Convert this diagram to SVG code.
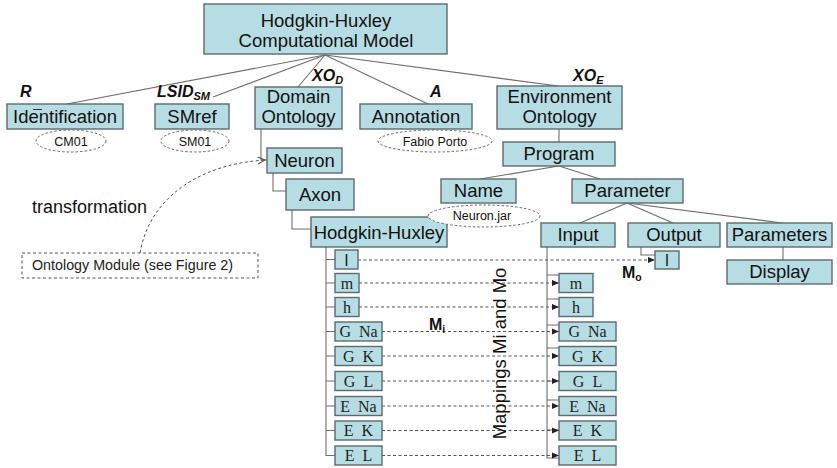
<svg xmlns="http://www.w3.org/2000/svg" width="837" height="468" viewBox="0 0 837 468">
<style>
.b{fill:#b7dde4;stroke:#5d6b6e;stroke-width:1.4}
.t{font-family:"Liberation Sans",Arial,sans-serif;font-size:18.5px;fill:#111;text-anchor:middle}
.s{font-family:"Liberation Serif","Times New Roman",serif;font-size:16px;fill:#222;text-anchor:middle;white-space:pre}
.si{font-family:"Liberation Sans",Arial,sans-serif;font-size:16px;fill:#222;text-anchor:middle}
.e{fill:#fff;stroke:#666;stroke-width:1;stroke-dasharray:2.5,2}
.et{font-family:"Liberation Sans",Arial,sans-serif;font-size:12.5px;fill:#111;text-anchor:middle}
.lb{font-family:"Liberation Sans",Arial,sans-serif;font-size:16px;font-weight:bold;font-style:italic;fill:#111}
.mb{font-family:"Liberation Sans",Arial,sans-serif;font-size:16px;font-weight:bold;fill:#111}
.c{fill:none;stroke:#6e6e6e;stroke-width:1.1}
.d{fill:none;stroke:#555;stroke-width:1;stroke-dasharray:3,2.5}
</style>
<defs>
<marker id="ar" viewBox="0 0 8 8" refX="8" refY="4" markerWidth="7" markerHeight="7" markerUnits="userSpaceOnUse" orient="auto">
<path d="M0,0.5 L8,4 L0,7.5 Z" fill="#222"/>
</marker>
<marker id="oa" viewBox="0 0 10 10" refX="9" refY="5" markerWidth="9" markerHeight="9" markerUnits="userSpaceOnUse" orient="auto">
<path d="M1,1 L9,5 L1,9" fill="none" stroke="#555" stroke-width="1.2"/>
</marker>
</defs>

<g id="connectors">
<line class="c" x1="325" y1="55" x2="67" y2="104"/>
<line class="c" x1="325" y1="55" x2="213" y2="97"/>
<line class="c" x1="325" y1="55" x2="298" y2="87"/>
<line class="c" x1="325" y1="55" x2="428" y2="104"/>
<line class="c" x1="325" y1="55" x2="558" y2="86"/>
<path class="c" d="M261,129 V160 H267"/>
<path class="c" d="M273,173 V191 H286"/>
<path class="c" d="M292,210 V229 H311"/>
<line class="c" x1="559" y1="129" x2="559" y2="142"/>
<line class="c" x1="559" y1="166" x2="480" y2="179"/>
<line class="c" x1="559" y1="166" x2="600" y2="179"/>
<line class="c" x1="627" y1="203" x2="580" y2="223"/>
<line class="c" x1="627" y1="203" x2="673" y2="223"/>
<line class="c" x1="627" y1="203" x2="782" y2="223"/>
<line class="c" x1="783" y1="247" x2="783" y2="260"/>
<path class="c" d="M641,247 V255 H655"/>
<path class="c" d="M326,247 V455.5 H335 M326,259.5 H335 M326,283 H335 M326,307 H335 M326,331.5 H335 M326,356 H335 M326,381 H335 M326,406 H335 M326,430.5 H335"/>
<path class="c" d="M547,247 V458 H559 M547,275 H559 M547,299 H559 M547,325 H559 M547,348 H559 M547,381 H559 M547,400 H559 M547,430 H559"/>
<path class="d" d="M140,253 C148,205 190,165 265,160" marker-end="url(#oa)"/>
<line class="d" x1="358" y1="260" x2="655" y2="260" marker-end="url(#ar)"/>
<line class="d" x1="359" y1="283" x2="559" y2="283" marker-end="url(#ar)"/>
<line class="d" x1="359" y1="307" x2="559" y2="307" marker-end="url(#ar)"/>
<line class="d" x1="382" y1="331.5" x2="559" y2="331.5" marker-end="url(#ar)"/>
<line class="d" x1="382" y1="356" x2="559" y2="356" marker-end="url(#ar)"/>
<line class="d" x1="382" y1="381" x2="559" y2="381" marker-end="url(#ar)"/>
<line class="d" x1="382" y1="406" x2="559" y2="406" marker-end="url(#ar)"/>
<line class="d" x1="382" y1="430.5" x2="559" y2="430.5" marker-end="url(#ar)"/>
<line class="d" x1="382" y1="455.5" x2="559" y2="455.5" marker-end="url(#ar)"/>
</g>

<g id="hh-model"><rect class="b" x="204" y="4" width="243" height="50"/><text class="t" x="326" y="27">Hodgkin-Huxley</text><text class="t" x="326" y="47">Computational Model</text></g>

<g id="identification"><rect class="b" x="7" y="104" width="116" height="25"/><text class="t" x="65" y="123">Identification</text><line x1="33" y1="109.5" x2="42" y2="109.5" stroke="#333" stroke-width="1"/></g>
<g id="cm01"><ellipse class="e" cx="71" cy="141" rx="35" ry="11"/><text class="et" x="71" y="145.5">CM01</text></g>
<g id="smref"><rect class="b" x="155" y="104" width="74" height="25"/><text class="t" x="192" y="123">SMref</text></g>
<g id="sm01"><ellipse class="e" cx="195" cy="141" rx="34" ry="11"/><text class="et" x="195" y="145.5">SM01</text></g>
<g id="domain-ontology"><rect class="b" x="255" y="87" width="87" height="42"/><text class="t" x="298.5" y="103">Domain</text><text class="t" x="298.5" y="123">Ontology</text></g>
<g id="annotation"><rect class="b" x="360" y="104" width="112" height="25"/><text class="t" x="416" y="123">Annotation</text></g>
<g id="fabio"><ellipse class="e" cx="435" cy="141" rx="57" ry="11"/><text class="et" x="435" y="145.5">Fabio Porto</text></g>
<g id="environment-ontology"><rect class="b" x="497" y="86" width="125" height="43"/><text class="t" x="559.5" y="103">Environment</text><text class="t" x="559.5" y="123">Ontology</text></g>

<g id="labels">
<text class="lb" x="20" y="97">R</text>
<text class="lb" x="157" y="97">LSID<tspan font-size="11" dy="3">SM</tspan></text>
<text class="lb" x="312" y="81">XO<tspan font-size="11" dy="3">D</tspan></text>
<text class="lb" x="430" y="97">A</text>
<text class="lb" x="573" y="81">XO<tspan font-size="11" dy="3">E</tspan></text>
<text class="mb" x="429" y="330">M<tspan font-size="10.5" dy="3">i</tspan></text>
<text class="mb" x="622" y="278">M<tspan font-size="10.5" dy="3">o</tspan></text>
<text x="32" y="213" font-family="Liberation Sans, Arial, sans-serif" font-size="18" fill="#111">transformation</text>
<text transform="translate(506,353.5) rotate(-90)" font-family="Liberation Sans, Arial, sans-serif" font-size="18.5" fill="#111" text-anchor="middle">Mappings Mi and Mo</text>
</g>

<g id="ontology-module"><rect x="22" y="253" width="236" height="25" fill="#fff" stroke="#555" stroke-width="1" stroke-dasharray="3,2.5"/><text x="32" y="270" font-family="Liberation Sans, Arial, sans-serif" font-size="14.3" fill="#222">Ontology Module (see Figure 2)</text></g>

<g id="neuron"><rect class="b" x="267" y="148" width="75" height="25"/><text class="t" x="304.5" y="167">Neuron</text></g>
<g id="axon"><rect class="b" x="286" y="179" width="68" height="31"/><text class="t" x="320" y="201">Axon</text></g>
<g id="hodgkin-huxley"><rect class="b" x="311" y="217" width="136" height="30"/><text class="t" x="379" y="238.5">Hodgkin-Huxley</text></g>

<g id="program"><rect class="b" x="503" y="142" width="112" height="24"/><text class="t" x="559" y="160">Program</text></g>
<g id="name"><rect class="b" x="441" y="179" width="75" height="24"/><text class="t" x="478.5" y="197">Name</text></g>
<g id="parameter"><rect class="b" x="572" y="179" width="111" height="24"/><text class="t" x="627.5" y="197">Parameter</text></g>
<g id="neuron-jar"><ellipse class="e" cx="484" cy="216" rx="56" ry="11"/><text class="et" x="482" y="220">Neuron.jar</text></g>
<g id="input"><rect class="b" x="541" y="223" width="74" height="24"/><text class="t" x="578" y="241">Input</text></g>
<g id="output"><rect class="b" x="628" y="223" width="92" height="24"/><text class="t" x="674" y="241">Output</text></g>
<g id="parameters"><rect class="b" x="727" y="223" width="105" height="24"/><text class="t" x="779.5" y="241">Parameters</text></g>
<g id="display"><rect class="b" x="727" y="260" width="105" height="24"/><text class="t" x="779.5" y="278">Display</text></g>
<g id="out-I"><rect class="b" x="655" y="251" width="24" height="18"/><text class="si" x="667" y="266">I</text></g>

<g id="l-I"><rect class="b" x="335" y="250" width="23" height="19"/><text class="si" x="346.5" y="265.5">I</text></g>
<g id="l-m"><rect class="b" x="335" y="273.5" width="24" height="19"/><text class="s" x="347" y="288.5">m</text></g>
<g id="l-h"><rect class="b" x="335" y="297.5" width="24" height="19"/><text class="s" x="347" y="312.5">h</text></g>
<g id="l-gna"><rect class="b" x="335" y="322" width="47" height="19"/><text class="s" xml:space="preserve" x="358.5" y="337">G  Na</text></g>
<g id="l-gk"><rect class="b" x="335" y="346.5" width="47" height="19"/><text class="s" xml:space="preserve" x="358.5" y="361.5">G  K</text></g>
<g id="l-gl"><rect class="b" x="335" y="371.5" width="47" height="19"/><text class="s" xml:space="preserve" x="358.5" y="386.5">G  L</text></g>
<g id="l-ena"><rect class="b" x="335" y="396.5" width="47" height="19"/><text class="s" xml:space="preserve" x="358.5" y="411.5">E  Na</text></g>
<g id="l-ek"><rect class="b" x="335" y="421" width="47" height="19"/><text class="s" xml:space="preserve" x="358.5" y="436">E  K</text></g>
<g id="l-el"><rect class="b" x="335" y="446" width="47" height="19"/><text class="s" xml:space="preserve" x="358.5" y="461">E  L</text></g>

<g id="r-m"><rect class="b" x="559" y="273.5" width="34" height="19"/><text class="s" x="576" y="288.5">m</text></g>
<g id="r-h"><rect class="b" x="559" y="297.5" width="34" height="19"/><text class="s" x="576" y="312.5">h</text></g>
<g id="r-gna"><rect class="b" x="559" y="322" width="57" height="19"/><text class="s" xml:space="preserve" x="587.5" y="337">G  Na</text></g>
<g id="r-gk"><rect class="b" x="559" y="346.5" width="57" height="19"/><text class="s" xml:space="preserve" x="587.5" y="361.5">G  K</text></g>
<g id="r-gl"><rect class="b" x="559" y="371.5" width="57" height="19"/><text class="s" xml:space="preserve" x="587.5" y="386.5">G  L</text></g>
<g id="r-ena"><rect class="b" x="559" y="396.5" width="57" height="19"/><text class="s" xml:space="preserve" x="587.5" y="411.5">E  Na</text></g>
<g id="r-ek"><rect class="b" x="559" y="421" width="57" height="19"/><text class="s" xml:space="preserve" x="587.5" y="436">E  K</text></g>
<g id="r-el"><rect class="b" x="559" y="446" width="57" height="19"/><text class="s" xml:space="preserve" x="587.5" y="461">E  L</text></g>
</svg>
